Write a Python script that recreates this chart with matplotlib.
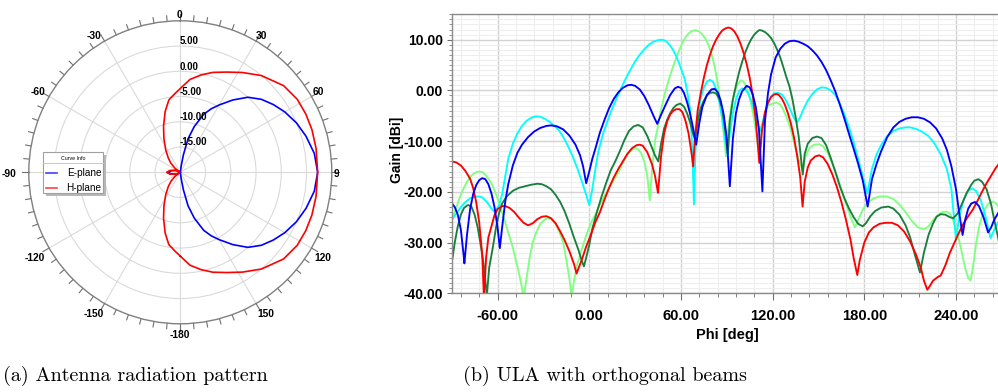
import matplotlib
matplotlib.use("Agg")
import matplotlib.pyplot as plt
import numpy as np
from matplotlib.ticker import MultipleLocator, FuncFormatter
from matplotlib.patches import Rectangle
from matplotlib.lines import Line2D
from matplotlib.transforms import Bbox

# ---------------- data: polar radiation pattern (theta in deg, gain in dB) ----------------
e_theta = [-180, -150, -140, -130, -120, -110, -100, -90, -80, -70, -60, -50, -40, -30, 0, 5, 8, 10,
           13, 17, 22, 26, 30, 36, 42, 48, 54, 60, 67, 74, 82, 90, 98, 106, 113, 120, 126, 132, 138,
           144, 150, 154, 158, 163, 167, 170, 172, 175, 180]
e_gain = [-20, -20, -20, -19.8, -19.4, -18.9, -18.2, -17.5, -18.2, -18.9, -19.4, -19.8, -20, -20, -20, -20,
          -18.8, -16.5, -13.2, -10.5, -7.6, -6.0, -4.6, -2.3, 0.0, 1.6, 2.8, 3.9, 5.0, 5.9, 6.8, 7.2,
          6.8, 5.9, 5.0, 3.9, 2.8, 1.6, 0.0, -2.3, -4.6, -6.0, -7.6, -10.5, -13.2, -16.5, -18.8, -20, -20]

h_theta = [-180, -176, -171, -166, -160, -154, -147, -140, -134, -128, -122, -118, -112, -100,
           -90, -80, -68, -62, -58, -52, -46, -40, -33, -26, -20, -14, -9, -4, 0, 6,
           12, 18, 25, 32, 40, 50, 58, 65, 72, 80, 90, 100, 108, 115, 122, 130, 140, 148, 155, 162,
           168, 174, 180]
h_gain = [-3.4, -4.4, -5.5, -7.6, -10.3, -12.6, -14.7, -16.3, -17.4, -18.6, -19.6, -19.8, -19.0, -17.9,
          -17.3, -17.9, -19.0, -19.8, -19.6, -18.6, -17.4, -16.3, -14.7,
          -12.6, -10.3, -7.6, -5.5, -4.4, -3.4, -1.5, -0.3, 0.8, 1.9, 3.3, 5.0, 6.7, 7.3, 7.4, 7.4,
          7.3, 7.2, 7.3, 7.4, 7.4, 7.3, 6.7, 5.0, 3.3, 1.9, 0.8, -0.3, -1.5, -3.4]

polar_labels = ["0", "30", "60", "90", "120", "150", "-180", "-150", "-120", "-90", "-60", "-30"]
ring_values = [5, 0, -5, -10, -15]

# ---------------- data: ULA with orthogonal beams (phi in deg, gain in dBi) ----------------
phi_blue = [-90, -88, -86, -84, -82, -81.7, -80, -78, -76, -74, -72, -70, -68, -66, -64, -62, -60, -58.5,
            -57, -55, -53, -50, -47, -44, -40, -36, -32, -28, -25, -21, -17, -13, -9, -6, -4, -2, 0, 2,
            4, 7, 10, 13, 16, 19, 22, 25, 27.5, 30, 33, 36, 39, 42, 44.5, 47, 50, 53, 56, 58, 60, 62,
            64, 66, 68, 70, 72, 74, 77, 80, 82, 84, 86, 88, 90, 92, 94, 96, 98, 100, 103, 105, 107,
            109, 111, 113.3, 115, 117, 119, 122, 125, 128, 131, 134, 137, 140, 143, 146, 149, 152,
            155, 158, 161, 164, 167, 170, 173, 176, 179, 182.2, 185, 188, 191, 195, 199, 203, 207,
            211, 215, 219, 223, 227, 231, 234, 237, 240, 242, 244.3, 246, 248, 250, 252.4, 255, 258,
            261, 263, 265, 267.5, 270]
gain_blue = [-22.2, -23.0, -24.5, -27.5, -33.0, -34.1, -28.5, -23.5, -20.5, -18.7, -17.7, -17.3, -17.5,
             -18.5, -20.3, -23.0, -27.0, -31.1, -27.0, -22.0, -18.5, -14.8, -12.3, -10.7, -9.2, -8.1,
             -7.4, -7.0, -6.9, -7.1, -7.7, -8.9, -10.7, -12.8, -15.0, -18.3, -16.0, -13.5, -11.5, -8.3,
             -5.8, -3.5, -1.7, -0.4, 0.5, 1.0, 1.1, 0.9, 0.2, -1.1, -2.9, -5.0, -6.6, -4.8, -2.8, -0.9,
             0.4, 0.7, 0.5, -0.5, -2.3, -4.6, -7.5, -10.7, -6.5, -3.3, -0.9, 0.2, 0.3, -0.3, -2.0, -4.8,
             -9.5, -18.9, -9.5, -4.5, -1.8, -0.2, 0.9, 0.6, -0.8, -3.3, -7.5, -19.9, -6.0, -0.5, 3.2,
             6.5, 8.2, 9.2, 9.7, 9.8, 9.6, 9.2, 8.7, 7.9, 6.9, 5.6, 4.0, 2.0, -0.2, -2.8, -5.6, -8.6,
             -11.5, -14.5, -17.8, -22.9, -17.5, -14.5, -12.0, -9.2, -7.3, -6.2, -5.6, -5.3, -5.3, -5.6,
             -6.3, -7.5, -9.5, -11.7, -15.0, -19.5, -24.0, -28.5, -25.5, -23.3, -22.3, -22.0, -22.8,
             -25.0, -28.0, -27.0, -25.5, -24.2, -23.0]

phi_cyan = [-90, -87, -84, -81, -78, -75, -72.4, -70, -67, -64, -62.5, -61, -59, -57, -55, -53, -50, -47,
            -44, -41, -38, -35, -32, -29, -26, -23, -20, -17, -14, -11, -8, -5, -2, 0, 2, 4, 6, 9, 12,
            15, 18, 21, 24, 27, 30, 33, 36, 39, 42, 45, 47, 49, 51, 53, 55, 57, 59, 61, 62.5, 64, 66,
            67.5, 68.5, 69.5, 71, 73, 75, 77, 79, 81, 83, 85, 87, 89, 90.6, 92, 94, 96, 98, 100, 102,
            104, 106, 108, 110, 111.7, 113, 115, 117, 119, 121, 123.7, 126, 128, 130, 132, 134, 136,
            138, 140, 143, 146, 149, 152, 155, 158, 161, 164, 167, 170, 173, 176, 179, 182, 185, 188,
            191, 195, 199, 203, 207, 210, 214, 218, 222, 226, 230, 234, 237, 240, 242, 245, 248,
            250.6, 253, 256, 259, 262.6, 265, 267.5, 270]
gain_cyan = [-25.5, -24.3, -23.0, -22.0, -21.3, -21.0, -20.9, -21.1, -22.0, -23.3, -23.8, -23.6, -22.6,
             -20.5, -17.0, -13.5, -10.5, -8.5, -7.0, -6.0, -5.4, -5.1, -5.2, -5.6, -6.2, -6.9, -7.8,
             -9.2, -10.9, -12.9, -15.2, -17.8, -20.6, -22.6, -19.5, -15.5, -12.0, -8.6, -6.0, -3.6,
             -1.5, 0.5, 2.4, 4.1, 5.7, 7.0, 8.1, 9.0, 9.6, 9.9, 10.0, 9.9, 9.5, 8.8, 7.9, 6.7, 5.2,
             3.5, 2.2, 0.0, -3.8, -12.0, -22.5, -12.0, -5.0, -1.5, 0.5, 1.7, 2.1, 1.7, 0.3, -2.2, -5.5,
             -10.0, -12.7, -8.5, -4.5, -1.8, -0.2, 0.4, 0.2, -0.6, -2.0, -4.0, -6.5, -8.1, -6.8, -4.5,
             -2.5, -1.2, -0.6, -0.5, -0.8, -1.6, -2.7, -4.1, -5.5, -6.3, -5.3, -3.8, -2.0, -0.7, 0.2,
             0.6, 0.5, 0.0, -0.9, -2.6, -4.8, -7.3, -10.2, -13.5, -17.0, -20.3, -15.5, -12.6, -10.8,
             -9.0, -8.0, -7.5, -7.3, -7.3, -7.6, -8.2, -9.0, -10.5, -12.6, -15.5, -19.5, -29.5, -25.0,
             -21.5, -19.8, -19.3, -19.8, -21.5, -24.5, -29.1, -27.5, -26.0, -25.0]

phi_red = [-90, -87, -84, -81, -78, -76, -74, -72, -70, -68.9, -67.5, -66, -64, -62, -60, -57, -55, -52,
           -49, -46, -43, -40, -37, -34, -31, -28, -25, -22, -19, -16, -13, -10, -8.3, -5, -2, 1, 4, 7,
           10, 13, 16, 19, 22, 25, 28, 31, 33, 35, 38, 41, 43, 45, 47, 49, 51, 53, 55, 57, 59, 61, 63,
           65, 67, 68, 69, 71, 73, 75, 77, 79, 81, 83, 85, 87, 89, 91, 93, 95, 97, 99, 101, 103, 105,
           107, 109, 111.3, 113, 115, 117, 119, 121, 122.5, 124, 126, 128, 130, 132, 134, 136, 138,
           139.6, 141, 143, 145, 148, 150.5, 153, 156, 159, 162, 165, 168, 171, 173, 175.4, 177, 180,
           183, 186, 190, 194, 198, 202, 206, 210, 214, 217, 219, 221.2, 223, 225, 228, 230, 233, 236,
           239, 242, 245, 248, 251, 254, 257, 260, 263, 266, 268, 270]
gain_red = [-14.0, -14.2, -14.8, -15.9, -17.4, -19.2, -22.0, -26.0, -32.5, -41.0, -33.0, -29.0, -26.8,
            -24.6, -23.4, -22.8, -22.8, -23.2, -24.0, -25.1, -26.1, -26.6, -26.2, -25.4, -24.9, -24.8,
            -25.2, -26.2, -27.8, -29.6, -31.7, -34.2, -36.1, -33.5, -30.8, -28.5, -26.0, -24.0, -21.5,
            -19.2, -17.2, -15.5, -14.0, -12.5, -11.4, -10.8, -10.7, -10.9, -12.2, -14.5, -16.8, -20.2,
            -13.0, -8.5, -6.1, -4.7, -4.0, -3.7, -3.7, -4.3, -6.0, -8.5, -12.5, -15.0, -10.0, -3.8,
            -0.5, 2.5, 5.0, 7.0, 8.7, 10.0, 11.0, 11.8, 12.2, 12.4, 12.2, 11.6, 10.6, 9.2, 7.4, 5.2,
            2.5, -1.0, -6.0, -14.3, -8.0, -4.3, -2.4, -1.3, -0.8, -0.7, -0.9, -1.6, -2.8, -4.5, -6.6,
            -9.3, -12.8, -17.0, -22.9, -18.0, -15.2, -13.8, -13.0, -12.8, -13.2, -14.5, -16.5, -19.0,
            -22.0, -25.5, -29.5, -33.0, -36.4, -33.5, -30.0, -28.0, -27.0, -26.3, -26.1, -26.1, -26.6,
            -27.8, -29.8, -32.5, -35.0, -37.5, -39.3, -38.5, -37.5, -36.8, -36.5, -34.5, -32.0, -30.0,
            -28.0, -26.2, -24.8, -23.5, -21.8, -20.0, -18.3, -16.8, -15.3, -14.5, -13.8]

phi_dkgreen = [-90, -88, -86, -84, -82, -80, -79, -77, -75, -73, -71, -69, -67, -65.5, -63, -61, -59, -57,
               -54, -50, -46, -42, -38, -34, -31, -28, -25, -22, -19, -16, -13, -10, -7, -5, -3.5, -2, 0,
               2, 5, 8, 11, 14, 17, 20, 23, 26, 29, 32, 35, 38, 41, 43, 45.2, 47, 49, 51, 53, 55, 57,
               59.5, 62, 64, 66, 68, 69.2, 71, 73, 75, 77, 79, 81, 83, 85, 87, 89, 90.6, 92, 94, 96, 98,
               100, 102, 104, 106, 108, 110, 111.3, 113, 115, 117, 119, 121, 123, 125, 127, 129, 131,
               133, 135, 137, 139.7, 141, 143, 146, 149, 152, 155, 158, 161, 164, 167, 170, 173, 176,
               178.9, 181, 184, 187, 191, 195.7, 199, 203, 207, 210, 213, 216.4, 219, 222, 225, 227.3,
               230, 233, 236, 238.2, 241, 244, 247, 250, 252, 254.6, 257, 260, 263, 265, 267.4, 270]
gain_dkgreen = [-34.1, -30.0, -26.8, -24.5, -23.2, -22.7, -22.6, -23.0, -24.5, -27.0, -30.5, -34.5, -40.5,
                -35.0, -30.8, -27.0, -24.2, -22.3, -20.9, -19.8, -19.2, -18.9, -18.6, -18.4, -18.5, -18.9,
                -19.5, -20.6, -22.0, -23.9, -26.3, -29.0, -31.5, -33.5, -34.7, -33.0, -30.5, -27.3, -24.0,
                -21.0, -18.3, -15.8, -14.0, -12.0, -9.8, -8.0, -7.1, -6.8, -7.3, -9.0, -11.3, -12.8,
                -14.0, -10.5, -7.5, -5.8, -4.5, -3.5, -2.9, -2.6, -3.2, -4.5, -6.3, -8.6, -9.7, -6.0,
                -3.5, -2.0, -1.0, -0.5, -0.4, -0.6, -1.6, -3.6, -7.8, -12.4, -6.0, -1.8, 1.0, 3.5, 5.6,
                7.4, 8.9, 10.1, 11.0, 11.6, 11.9, 11.8, 11.5, 11.0, 10.3, 9.3, 8.0, 6.5, 4.6, 2.6, 0.8,
                -1.8, -5.2, -9.0, -16.6, -12.5, -10.5, -9.4, -9.1, -9.4, -10.8, -13.3, -16.0, -18.9,
                -21.3, -23.3, -25.0, -26.3, -26.8, -26.2, -24.8, -23.8, -23.1, -22.9, -23.3, -24.5,
                -26.6, -29.0, -32.3, -35.9, -32.0, -28.5, -26.2, -24.9, -24.4, -24.5, -25.0, -25.2,
                -24.3, -22.3, -20.2, -18.6, -17.8, -17.5, -18.0, -19.5, -22.5, -25.5, -28.8, -33.0]

phi_ltgreen = [-90, -88, -86, -84, -82, -80, -78, -76, -74, -72, -70, -68, -66, -64, -62, -60, -58, -56,
               -54, -52, -50, -48, -46, -44, -43, -41, -39, -37, -35, -32, -29, -27, -25, -22, -19, -17,
               -15, -13, -11.5, -10, -8, -5, -2, 1, 4, 7, 10, 13, 16, 19, 22, 25, 27, 30, 32, 34, 36,
               38, 39.6, 41, 43, 45, 47, 49, 51, 53, 55, 57, 59, 61, 63, 65, 67, 69.7, 72, 74, 76, 78,
               80, 82, 84, 86, 88, 89.5, 91, 93, 95, 97, 99.3, 101, 103, 105, 107, 109, 111.2, 113, 115,
               117, 120, 122.5, 125, 127, 129, 131, 133, 135, 137, 139.5, 141.5, 144, 147, 150.5, 153,
               156, 159, 162, 165, 168, 171, 173.9, 176, 179, 182, 186, 190, 194.6, 199, 203, 207, 211,
               215, 219, 222, 225, 228, 231, 233.8, 236, 238, 240, 242, 244, 246, 248, 249.6, 251, 253,
               255, 257, 259, 261, 264, 266, 268, 270]
gain_ltgreen = [-25.9, -24.0, -22.2, -20.5, -19.2, -18.0, -17.1, -16.5, -16.1, -16.0, -16.1, -16.6, -17.4,
                -18.3, -19.7, -21.3, -23.2, -25.0, -27.0, -29.0, -31.0, -33.5, -36.0, -39.0, -41.0,
                -37.0, -33.0, -30.0, -28.2, -26.3, -25.4, -25.2, -25.4, -26.3, -28.3, -30.0, -33.4,
                -37.0, -41.0, -37.5, -34.5, -31.4, -28.6, -26.2, -24.5, -22.5, -20.8, -19.3, -17.7,
                -16.2, -14.3, -12.7, -11.9, -11.4, -11.6, -12.4, -14.0, -16.8, -21.7, -16.0, -10.0,
                -7.0, -3.8, -1.2, 1.0, 3.0, 4.8, 6.5, 8.0, 9.4, 10.5, 11.2, 11.7, 11.9, 11.6, 11.0, 10.2,
                9.0, 7.2, 4.8, 1.5, -3.0, -8.5, -13.0, -7.5, -3.0, -0.5, 1.2, 2.0, 1.7, 0.6, -1.4, -4.2,
                -7.8, -12.5, -7.5, -4.5, -3.0, -2.6, -2.4, -2.8, -3.8, -5.2, -6.9, -9.0, -11.5, -13.5,
                -15.7, -13.0, -11.4, -10.7, -10.6, -11.0, -12.3, -14.4, -16.8, -19.5, -22.3, -25.0,
                -27.0, -25.5, -23.5, -22.2, -21.3, -20.9, -20.9, -21.4, -22.5, -24.0, -25.7, -27.0,
                -27.4, -26.8, -25.6, -24.6, -24.0, -23.9, -24.3, -25.5, -27.2, -29.5, -32.3, -35.0,
                -37.0, -37.5, -35.0, -30.5, -27.0, -24.8, -23.3, -22.4, -21.9, -22.2, -23.0, -24.0]

x_ticks = [-60, 0, 60, 120, 180, 240]
y_ticks = [-40, -30, -20, -10, 0, 10]

# ---------------- figure ----------------
W, H = 998, 392
fig = plt.figure(figsize=(W / 100, H / 100), dpi=100)
SANS = ["Liberation Sans", "DejaVu Sans"]


def fxy(px, py):
    return px / W, 1 - py / H


# ---------------- polar panel ----------------
cx, cy, R = 180.3, 172.3, 151.5
axp = fig.add_axes([(cx - R) / W, 1 - (cy + R) / H, 2 * R / W, 2 * R / H], projection="polar")
axp.set_theta_zero_location("N")
axp.set_theta_direction(-1)
axp.set_rlim(-20, 10)
axp.set_rticks([-15, -10, -5, 0, 5])
axp.set_yticklabels([])
axp.set_thetagrids(range(0, 360, 30), labels=[""] * 12)
axp.grid(True, color="#dadada", lw=0.8)
axp.spines["polar"].set_color("#808080")
axp.spines["polar"].set_linewidth(1.0)
axp.tick_params(axis="x", length=0, pad=0)

for a in range(0, 360, 5):
    ext = 1.1 if a % 30 else 1.4
    axp.plot([np.deg2rad(a)] * 2, [10, 10 + ext], color="#707070", lw=0.8, clip_on=False)

axp.plot(np.deg2rad(e_theta), e_gain, color="#0000ff", lw=1.2)
axp.plot(np.deg2rad(h_theta), h_gain, color="#ff0000", lw=1.2)

clipbox = Bbox.from_extents(0, 0, 339, H)
label_pos = {"0": (179.3, 15), "30": (261.7, 35.7), "60": (318.3, 92.3), "120": (322.7, 258.3),
             "150": (265.7, 314), "-180": (180, 335), "-150": (93.3, 314), "-120": (35, 258.3),
             "-90": (9.5, 174), "-60": (38.3, 92.3), "-30": (94.3, 35.7)}
for lab in polar_labels:
    if lab == "90":
        t = fig.text(*fxy(333.5, 174), lab, ha="left", va="center", fontsize=7.4, fontweight="bold",
                     family=SANS)
        t.set_clip_box(clipbox)
        t.set_clip_on(True)
        continue
    fig.text(*fxy(*label_pos[lab]), lab, ha="center", va="center", fontsize=7.4, fontweight="bold",
             family=SANS)

for rv in ring_values:
    px, py = axp.transData.transform((0, rv))
    fig.text((cx - 1) / W, (py + 4.8) / H, "%.2f" % rv, ha="left", va="center",
             fontsize=7.0, fontweight="bold", family=SANS)

# legend box (Curve Info)
lx0, ly0, lx1, ly1 = 43, 152, 103, 193
fig.patches.append(Rectangle(fxy(lx0 + 3, ly1 + 3), (lx1 - lx0) / W, (ly1 - ly0) / H,
                             transform=fig.transFigure, facecolor="#b8b8b8", edgecolor="none", zorder=5))
fig.patches.append(Rectangle(fxy(lx0, ly1), (lx1 - lx0) / W, (ly1 - ly0) / H,
                             transform=fig.transFigure, facecolor="white", edgecolor="#a0a0a0",
                             lw=0.8, zorder=6))
fig.lines.append(Line2D([lx0 / W, lx1 / W], [1 - 162.7 / H] * 2, transform=fig.transFigure,
                        color="#c8c8c8", lw=0.7, zorder=7))
fig.text(*fxy(73, 158.5), "Curve Info", ha="center", va="center", fontsize=3.8,
         family=SANS, zorder=8)
fig.lines.append(Line2D([45.5 / W, 57 / W], [1 - 172.5 / H] * 2, transform=fig.transFigure,
                        color="#4040ff", lw=1.2, zorder=7))
fig.lines.append(Line2D([45.5 / W, 57 / W], [1 - 187.5 / H] * 2, transform=fig.transFigure,
                        color="#ff4040", lw=1.2, zorder=7))
fig.text(*fxy(101.5, 173), "E-plane", ha="right", va="center", fontsize=7.2,
         family=SANS, zorder=8)
fig.text(*fxy(101.5, 188.3), "H-plane", ha="right", va="center", fontsize=7.2,
         family=SANS, zorder=8)

# ---------------- cartesian panel ----------------
x0, x1, y0, y1 = 451.7, 589.3 + 1.528 * 270, 14.3, 293.3
ax = fig.add_axes([x0 / W, 1 - y1 / H, (x1 - x0) / W, (y1 - y0) / H])
ax.set_xlim(-90, 270)
ax.set_ylim(-40, 15)
ax.set_xticks(x_ticks)
ax.set_yticks(y_ticks)
ax.xaxis.set_minor_locator(MultipleLocator(12))
ax.yaxis.set_minor_locator(MultipleLocator(1))
fmt = FuncFormatter(lambda v, p: "%.2f" % v)
ax.xaxis.set_major_formatter(fmt)
ax.yaxis.set_major_formatter(fmt)
ax.grid(which="major", color="#d2d2d2", lw=1.0)
ax.grid(which="minor", color="#eeeeee", lw=0.8)
ax.set_axisbelow(True)
for s in ax.spines.values():
    s.set_color("#8a8a8a")
    s.set_linewidth(1.0)
ax.tick_params(which="major", axis="x", direction="out", length=5, width=0.8, color="#707070", pad=6)
ax.tick_params(which="minor", axis="x", direction="out", length=3, width=0.7, color="#808080")
ax.tick_params(which="major", axis="y", direction="out", length=3.5, width=0.8, color="#707070", pad=3)
ax.tick_params(which="minor", axis="y", direction="out", length=2, width=0.6, color="#808080")
for t in ax.get_xticklabels():
    t.set_fontweight("bold")
    t.set_fontsize(10.6)
    t.set_family(SANS)
for t in ax.get_yticklabels():
    t.set_fontweight("bold")
    t.set_fontsize(10)
    t.set_family(SANS)

lw = 1.35
ax.plot(phi_ltgreen, gain_ltgreen, color="#80ff80", lw=lw)
ax.plot(phi_cyan, gain_cyan, color="#00ffff", lw=lw)
ax.plot(phi_dkgreen, gain_dkgreen, color="#1a7f3c", lw=lw)
ax.plot(phi_red, gain_red, color="#ff0000", lw=lw)
ax.plot(phi_blue, gain_blue, color="#0000ff", lw=lw)

fig.text(396.7 / W, 1 - 150 / H, "Gain [dBi]", rotation=90, ha="center", va="center",
         fontsize=10, fontweight="bold", family=SANS)
fig.text(727 / W, 1 - 335 / H, "Phi [deg]", ha="center", va="center", fontsize=10.5,
         fontweight="bold", family=SANS)

# ---------------- captions ----------------
fig.text(3 / W, 1 - 376 / H, "(a) Antenna radiation pattern", ha="left", va="center",
         fontsize=14.5, family="cmr10")
fig.text(463 / W, 1 - 376 / H, "(b) ULA with orthogonal beams", ha="left", va="center",
         fontsize=14.5, family="cmr10")

fig.savefig("out.png", dpi=100)
